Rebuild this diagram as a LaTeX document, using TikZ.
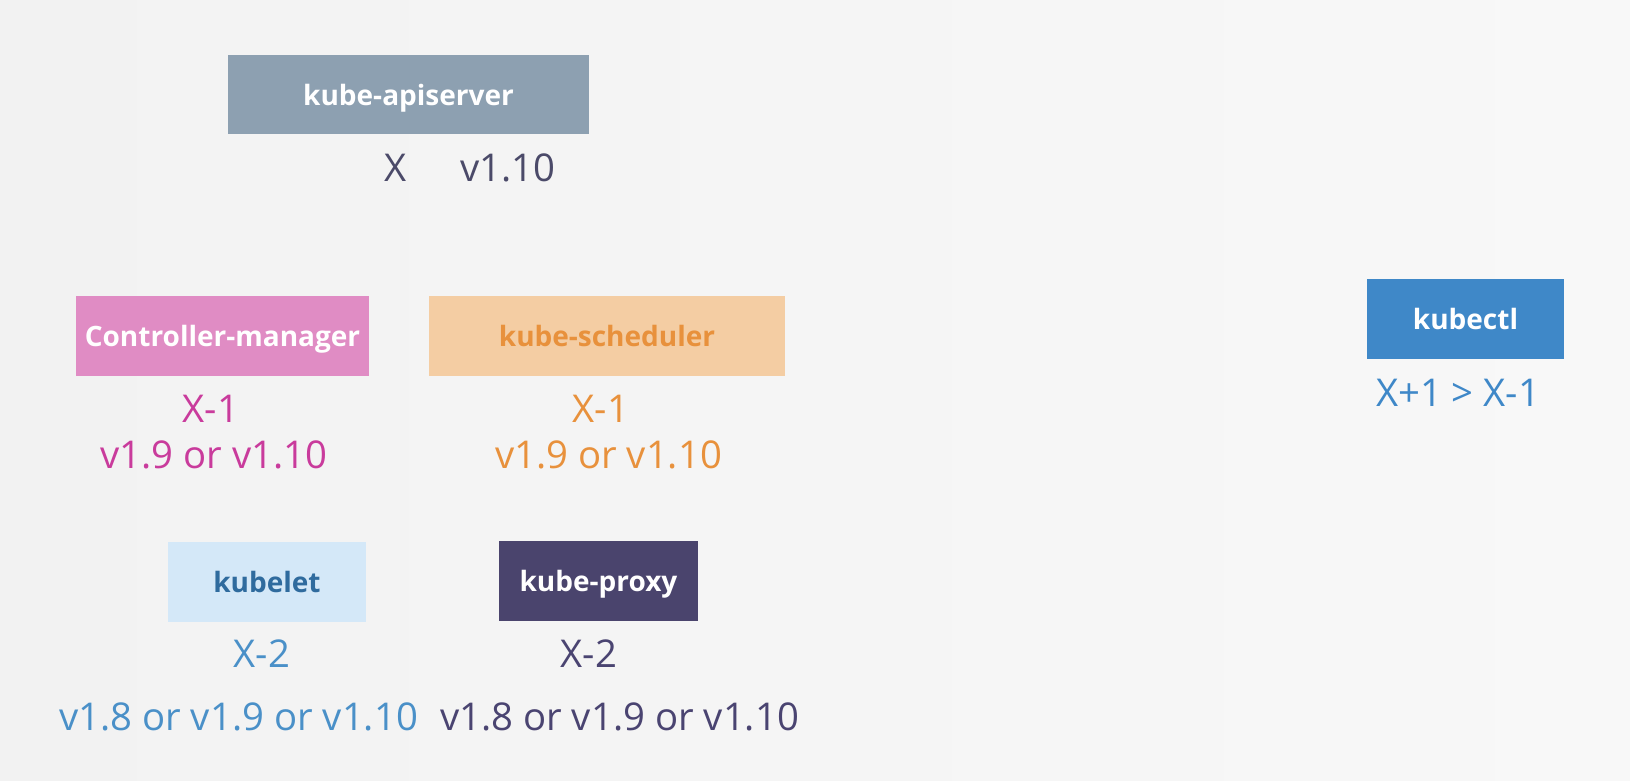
\documentclass[tikz,border=0pt]{standalone}
\usepackage{fontspec}
\setmainfont{Open Sans}
\usetikzlibrary{positioning}
\definecolor{hgLinks}{HTML}{F2F2F2}
\definecolor{hgRechts}{HTML}{F8F8F8}
\definecolor{apiFill}{HTML}{8DA0B1}
\definecolor{apiText}{HTML}{4B4A69}
\definecolor{ctrlFill}{HTML}{E08CC4}
\definecolor{ctrlText}{HTML}{C93B9C}
\definecolor{schedFill}{HTML}{F4CDA3}
\definecolor{schedText}{HTML}{E8913C}
\definecolor{letFill}{HTML}{D4E8F8}
\definecolor{letDunkel}{HTML}{2F6B9E}
\definecolor{letText}{HTML}{4A90C8}
\definecolor{proxyFill}{HTML}{4A446D}
\definecolor{proxyText}{HTML}{4A4471}
\definecolor{ctlFill}{HTML}{3F88C8}
\tikzset{
	kasten/.style={
		rectangle,
		inner sep=0pt,
		minimum height=80pt,
		text height=21pt,
		text depth=0pt,
		text=white,
		font=\fontsize{28}{34}\selectfont\bfseries},
	version/.style={
		inner sep=0pt,
		text height=27.5pt,
		text depth=0pt,
		font=\fontsize{38.3}{46}\selectfont},
}
\begin{document}
\begin{tikzpicture}[x=1pt,y=-1pt]
	\fill[left color=hgLinks, right color=hgRechts] (0,0) rectangle (1630,780);
	% kube-apiserver
	\node[kasten, fill=apiFill, minimum width=361pt, minimum height=79pt] (apiserver) at (408.5,94.5) {kube-apiserver};
	\node[version, text=apiText] (apiX) at (396,168) {X};
	\node[version, text=apiText] (apiVer) at (508,168) {v1.10};
	% controller-manager und scheduler
	\node[kasten, fill=ctrlFill, minimum width=293pt] (ctrl) at (222.5,336) {Controller-manager};
	\node[version, text=ctrlText] (ctrlX) at (211,408.5) {X-1};
	\node[version, text=ctrlText] (ctrlVer) at (214,455) {v1.9 or v1.10};
	\node[kasten, fill=schedFill, text=schedText, minimum width=356pt] (sched) at (607,336) {kube-scheduler};
	\node[version, text=schedText] (schedX) at (601,408.5) {X-1};
	\node[version, text=schedText] (schedVer) at (608.5,455) {v1.9 or v1.10};
	% kubelet und kube-proxy
	\node[kasten, fill=letFill, text=letDunkel, minimum width=198pt] (kubelet) at (267,582) {kubelet};
	\node[version, text=letText] (letX) at (262,654) {X-2};
	\node[version, text=letText] (letVer) at (238.5,717) {v1.8 or v1.9 or v1.10};
	\node[kasten, fill=proxyFill, minimum width=199pt] (proxy) at (598.5,581) {kube-proxy};
	\node[version, text=proxyText] (proxyX) at (589,654) {X-2};
	\node[version, text=proxyText] (proxyVer) at (619.5,717) {v1.8 or v1.9 or v1.10};
	% kubectl
	\node[kasten, fill=ctlFill, minimum width=197pt] (kubectl) at (1465.5,319) {kubectl};
	\node[version, text=ctlFill] (ctlX) at (1458,393) {X+1 > X-1};
\end{tikzpicture}
\end{document}
